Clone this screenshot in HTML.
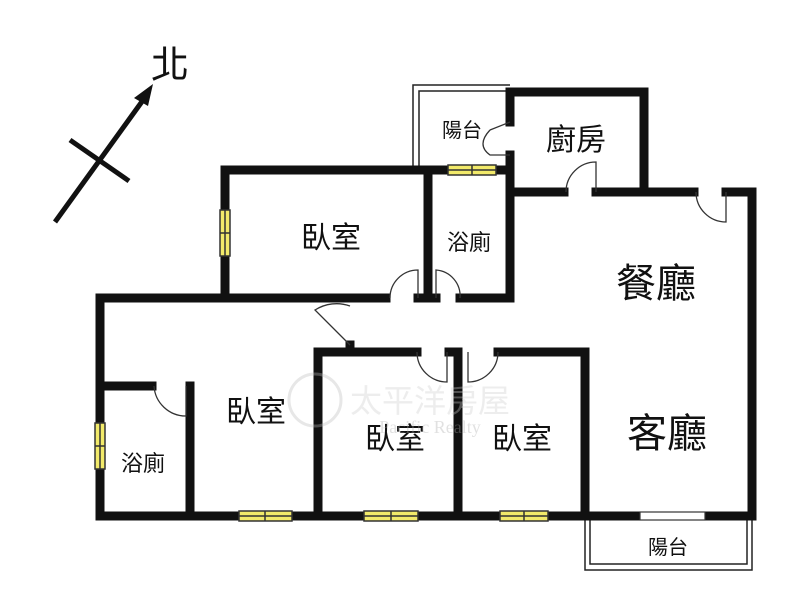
<!DOCTYPE html>
<html><head><meta charset="utf-8"><style>
body{margin:0;background:#fff;}
svg{display:block}
text{font-family:"Liberation Sans","Noto Sans CJK TC",sans-serif;fill:#111;text-anchor:middle}
</style></head><body>
<svg width="800" height="594" viewBox="0 0 800 594" xmlns="http://www.w3.org/2000/svg">
<rect width="800" height="594" fill="#fff"/>
<line x1="55" y1="222" x2="146" y2="96" stroke="#111" stroke-width="5"/>
<polygon points="153,84 134,98 148,106" fill="#111"/>
<line x1="70" y1="140" x2="129" y2="181" stroke="#111" stroke-width="5"/>
<text x="170" y="78" font-size="38">北</text>
<g stroke="#222" stroke-width="1.5" fill="none">
<polyline points="413,170 413,85 510,85"/>
<polyline points="419,170 419,91 510,91"/>
<rect x="585" y="516" width="167" height="54"/>
<rect x="590" y="516" width="157" height="48"/>
</g>
<g stroke="#111" stroke-width="9" stroke-linecap="square" fill="none">
<polyline points="510,122 510,92 644,92 644,192"/>
<line x1="510" y1="155" x2="510" y2="298"/>
<line x1="510" y1="192" x2="564" y2="192"/>
<line x1="596" y1="192" x2="694" y2="192"/>
<polyline points="726,192 752,192 752,516"/>
<polyline points="225,298 225,170 510,170"/>
<line x1="428" y1="170" x2="428" y2="298"/>
<line x1="460" y1="298" x2="510" y2="298"/>
<line x1="418" y1="298" x2="436" y2="298"/>
<polyline points="386,298 100,298 100,516 190,516"/>
<line x1="100" y1="386" x2="152" y2="386"/>
<line x1="190" y1="386" x2="190" y2="516"/>
<polyline points="318,516 318,352 417,352"/>
<line x1="350" y1="345" x2="350" y2="352"/>
<polyline points="449,352 458,352 458,516"/>
<polyline points="498,352 585,352 585,516"/>
<line x1="190" y1="516" x2="752" y2="516"/>
</g>
<g fill="#f2ea6a" stroke="#333" stroke-width="1.5">
<rect x="448" y="165" width="48" height="10"/><line x1="472" y1="165" x2="472" y2="175"/><line x1="448" y1="170" x2="496" y2="170"/>
<rect x="220" y="210" width="10" height="46"/><line x1="225" y1="210" x2="225" y2="256"/><line x1="220" y1="233" x2="230" y2="233"/>
<rect x="95" y="423" width="10" height="46"/><line x1="100" y1="423" x2="100" y2="469"/><line x1="95" y1="446" x2="105" y2="446"/>
<rect x="239" y="511" width="53" height="10"/><line x1="239" y1="516" x2="292" y2="516"/><line x1="265" y1="511" x2="265" y2="521"/>
<rect x="364" y="511" width="54" height="10"/><line x1="364" y1="516" x2="418" y2="516"/><line x1="391" y1="511" x2="391" y2="521"/>
<rect x="500" y="511" width="48" height="10"/><line x1="500" y1="516" x2="548" y2="516"/><line x1="524" y1="511" x2="524" y2="521"/>
</g>
<rect x="640" y="512" width="65" height="8" fill="#fff" stroke="#333" stroke-width="1.2"/>
<g stroke="#333" stroke-width="1.3" fill="none">
<path d="M510,122 L490,130 M490,130 Q476,145 490,155 L510,155"/>
<path d="M596,192 L596,162 A30,30 0 0 0 566,192"/>
<path d="M726,192 L726,222 A30,30 0 0 1 696,192"/>
<path d="M418,298 L418,270 A28,28 0 0 0 390,298"/>
<path d="M436,298 L436,270 A26,26 0 0 1 460,298"/>
<path d="M350,345 L315,310 A40,40 0 0 1 350,306"/>
<path d="M447,352 L447,382 A30,30 0 0 1 417,352"/>
<path d="M468,352 L468,382 A30,30 0 0 0 498,352"/>
<path d="M186,386 L186,416 A32,32 0 0 1 154,386"/>
</g>
<text x="462" y="137" font-size="20">陽台</text>
<text x="576" y="150" font-size="30">廚房</text>
<text x="331" y="248" font-size="30">臥室</text>
<text x="469" y="250" font-size="22">浴廁</text>
<text x="656" y="297" font-size="40">餐廳</text>
<text x="667" y="447" font-size="40">客廳</text>
<text x="256" y="422" font-size="30">臥室</text>
<text x="395" y="449" font-size="30">臥室</text>
<text x="522" y="449" font-size="30">臥室</text>
<text x="143" y="471" font-size="22">浴廁</text>
<text x="668" y="554" font-size="20">陽台</text>
<g opacity="0.35">
<circle cx="315" cy="400" r="26" fill="none" stroke="#bbb" stroke-width="3"/>
<text x="430" y="412" font-size="32" style="fill:#ccc">太平洋房屋</text>
<text x="430" y="433" font-size="18" style="fill:#aaa;font-family:'Liberation Serif',serif">Pacific Realty</text>
</g>
</svg>
</body></html>
